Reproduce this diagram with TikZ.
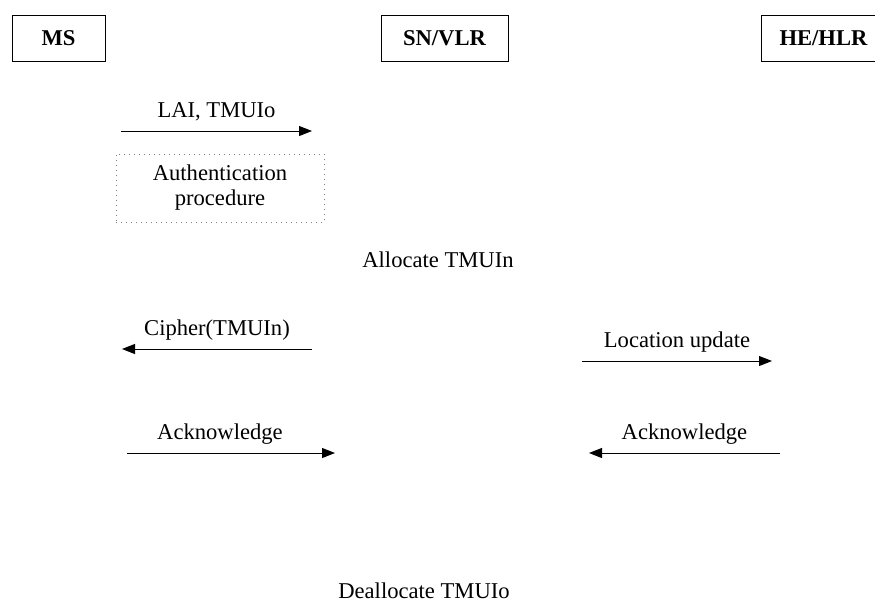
\documentclass[tikz,border=0pt]{standalone}
\usepackage{fontspec}
\setmainfont{Liberation Serif}
\usetikzlibrary{arrows.meta}
\newcommand{\msgfont}{\fontsize{11.3}{12.5}\selectfont}
\tikzstyle{entity}=[draw,line width=0.5pt,font=\msgfont\bfseries,minimum height=23pt,inner sep=0pt]
\tikzstyle{msg}=[-{Triangle[length=6.5pt,width=5pt]},line width=0.5pt]
\tikzstyle{msglabel}=[anchor=base,yshift=7pt,inner sep=0pt]
\tikzstyle{proc}=[draw=gray,dotted,line width=0.5pt,align=center,minimum width=104pt,minimum height=34pt,inner sep=0pt]

\begin{document}
\begin{tikzpicture}[x=0.5pt,y=-0.5pt,font=\msgfont]
\useasboundingbox (0,0) rectangle (875,601);
\node[entity,minimum width=46.5pt] at (58.5,38) (ms) {MS};
\node[entity,minimum width=63.5pt] at (444.5,38) (sn) {SN/VLR};
\node[entity,minimum width=62.5pt] at (823.5,38) (he) {HE/HLR};
\coordinate (lai-s) at (121,131);
\coordinate (lai-e) at (312,131);
\coordinate (ciph-s) at (312,349);
\coordinate (ciph-e) at (122,349);
\coordinate (ack1-s) at (127,453);
\coordinate (ack1-e) at (335,453);
\coordinate (loc-s) at (582,361);
\coordinate (loc-e) at (772,361);
\coordinate (ack2-s) at (780,453);
\coordinate (ack2-e) at (589,453);
\node[proc] at (220,188) (auth) {Authentication\\procedure};
\draw[msg] (lai-s) -- node[msglabel] {LAI, TMUIo} (lai-e);
\draw[msg] (ciph-s) -- node[msglabel] {Cipher(TMUIn)} (ciph-e);
\draw[msg] (ack1-s) -- node[msglabel,xshift=-5.5pt] {Acknowledge} (ack1-e);
\draw[msg] (loc-s) -- node[msglabel] {Location update} (loc-e);
\draw[msg] (ack2-s) -- node[msglabel] {Acknowledge} (ack2-e);
\node[anchor=base] at (438,267) (alloc) {Allocate TMUIn};
\node[anchor=base] at (424,598) (dealloc) {Deallocate TMUIo};
\end{tikzpicture}
\end{document}
